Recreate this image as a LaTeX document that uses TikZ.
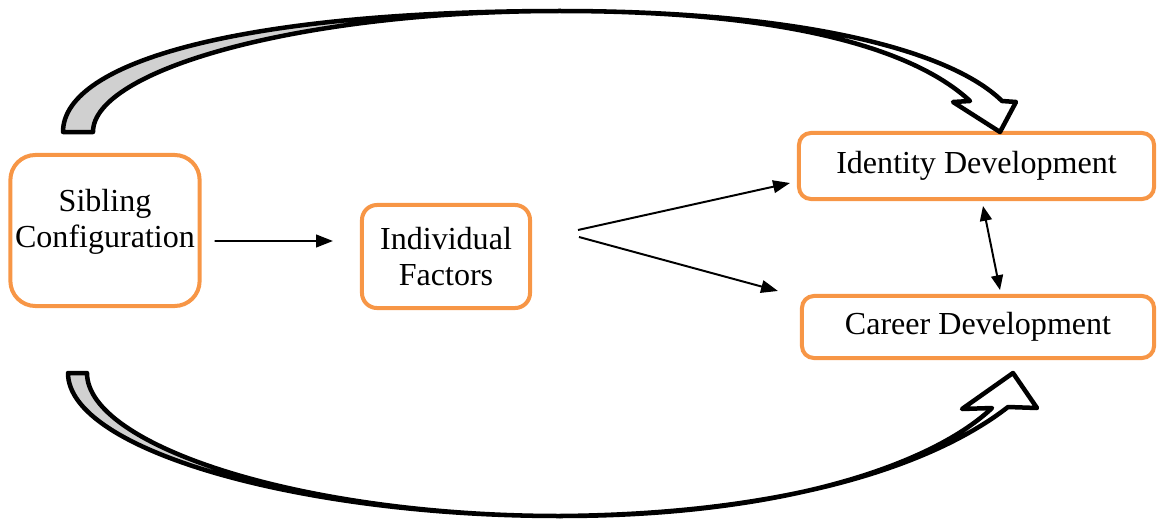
\documentclass[tikz,border=0pt]{standalone}
\usepackage{fontspec}
\setmainfont{Liberation Serif}
\usetikzlibrary{arrows.meta}
\definecolor{boxorange}{HTML}{F79646}
\definecolor{ribbongray}{HTML}{D0D0D0}

\begin{document}
\begin{tikzpicture}[x=0.025cm,y=-0.025cm,>={Triangle[length=12pt,width=9pt]},line width=1.4pt]
    \tikzstyle{box}=[draw=boxorange, line width=2.85pt, align=center, font=\fontsize{22.8}{25.5}\selectfont]
    \tikzstyle{ribbon}=[draw=black, line width=3.2pt, line join=round]
    \useasboundingbox (0,0) rectangle (1157,519);
    \node[box, rounded corners=0.625cm, minimum width=4.65cm, minimum height=3.775cm, text depth=0.6cm] (sib) at (105,230.5) {Sibling\\Configuration};
    \node[box, rounded corners=0.375cm, minimum width=4.2cm, minimum height=2.575cm] (ind) at (446,256.5) {Individual\\Factors};
    \node[box, rounded corners=0.3cm, minimum width=8.875cm, minimum height=1.65cm] (ide) at (976.5,166) {Identity Development};
    \node[box, rounded corners=0.3cm, minimum width=8.8cm, minimum height=1.55cm] (car) at (978,327) {Career Development};
    \coordinate (split) at (578,233.5);
    % curved block arrows
    \filldraw[ribbon, fill=ribbongray] (63,132) .. controls (63,60) and (250,11) .. (560,11)
        .. controls (300,11) and (93,70) .. (93,132) -- cycle;
    \filldraw[ribbon, fill=white] (560,11) .. controls (800,11) and (950,50) .. (1002,101)
        -- (1016,102) -- (1000,132) -- (953,102) -- (970,101)
        .. controls (915,50) and (790,11) .. (560,11) -- cycle;
    \filldraw[ribbon, fill=ribbongray] (68,373) .. controls (68,450) and (300,516) .. (560,516)
        .. controls (300,516) and (87,445) .. (87,373) -- cycle;
    \filldraw[ribbon, fill=white] (560,516) .. controls (800,514) and (940,460) .. (1008,407)
        -- (1037,408) -- (1013,373) -- (962,409) -- (992,408)
        .. controls (935,462) and (790,516) .. (560,516) -- cycle;
    % plain arrows
    \draw[->] ([shift={(13,10.5)}]sib.east) -- ([shift={(-27,-15.5)}]ind.west);
    \draw[->] ([shift={(0,-3.5)}]split) -- ([shift={(-7,17)}]ide.west);
    \draw[->] ([shift={(1,3.5)}]split) -- ([shift={(-22,-3)}]car.north west);
    \draw[<->, >={Triangle[length=10.5pt,width=8.5pt]}] ([shift={(6.5,5)}]ide.south) -- ([shift={(22,-4)}]car.north);
\end{tikzpicture}
\end{document}
